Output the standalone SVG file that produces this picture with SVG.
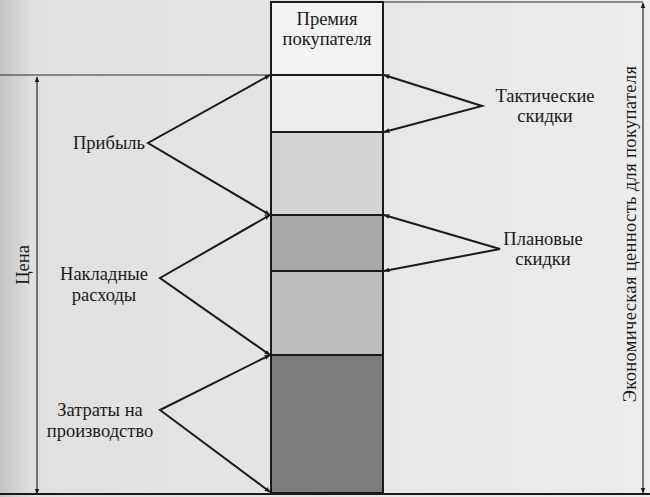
<svg xmlns="http://www.w3.org/2000/svg" width="650" height="497" viewBox="0 0 650 497">
<defs>
<style>
text{font-family:'Liberation Serif','DejaVu Serif',serif;font-size:18.5px;fill:#1a1a1a;}
.ln{stroke:#1a1a1a;stroke-width:2;fill:none;}
.thin{stroke:#2a2a2a;stroke-width:1.2;fill:none;}
.cell{stroke:#1a1a1a;stroke-width:2;}
</style>
<marker id="ah" viewBox="0 0 10 10" refX="9" refY="5" markerWidth="3" markerHeight="3" orient="auto-start-reverse">
<path d="M0,1 L10,5 L0,9 z" fill="#1a1a1a"/>
</marker>
<marker id="ah2" viewBox="0 0 10 10" refX="9" refY="5" markerWidth="5" markerHeight="5" orient="auto-start-reverse">
<path d="M0,1 L10,5 L0,9 z" fill="#1a1a1a"/>
</marker>
<linearGradient id="bg" x1="0" y1="0" x2="1" y2="0">
<stop offset="0" stop-color="#c4c4c4"/>
<stop offset="0.05" stop-color="#e0e0e0"/>
<stop offset="1" stop-color="#ececec"/>
</linearGradient>
</defs>
<rect x="0" y="0" width="650" height="497" fill="url(#bg)"/>

<g id="column">
<rect id="premium" class="cell" x="271" y="2" width="112" height="73" fill="#f2f2f2"/>
<rect id="tactical" class="cell" x="271" y="75" width="112" height="57" fill="#eeeeee"/>
<rect id="profit2" class="cell" x="271" y="132" width="112" height="83" fill="#d4d4d4"/>
<rect id="planned" class="cell" x="271" y="215" width="112" height="56" fill="#a9a9a9"/>
<rect id="overhead2" class="cell" x="271" y="271" width="112" height="84" fill="#bdbdbd"/>
<rect id="cost" class="cell" x="271" y="355" width="112" height="138" fill="#7c7c7c"/>
</g>

<g id="connectors">
<line class="thin" x1="0" y1="75" x2="271" y2="75"/>
<line class="thin" x1="383" y1="2" x2="643" y2="2"/>
<line class="ln" x1="0" y1="494" x2="650" y2="494"/>
<line class="thin" x1="37" y1="494" x2="37" y2="77" marker-start="url(#ah2)" marker-end="url(#ah2)"/>
<line class="thin" x1="643" y1="493" x2="643" y2="3" marker-start="url(#ah2)" marker-end="url(#ah2)"/>
<polyline class="ln" points="270,75 148,143 270,215" marker-start="url(#ah)" marker-end="url(#ah)"/>
<polyline class="ln" points="270,215 160,278 270,355" marker-start="url(#ah)" marker-end="url(#ah)"/>
<polyline class="ln" points="270,355 160,410 270,492" marker-start="url(#ah)" marker-end="url(#ah)"/>
<polyline class="ln" points="384,75 482,106 384,132" marker-start="url(#ah)" marker-end="url(#ah)"/>
<polyline class="ln" points="384,215 500,249 384,271" marker-start="url(#ah)" marker-end="url(#ah)"/>
</g>

<g id="labels">
<text x="327" y="25" text-anchor="middle">Премия</text>
<text x="327" y="45" text-anchor="middle">покупателя</text>
<text x="145" y="149" text-anchor="end">Прибыль</text>
<text x="104" y="280" text-anchor="middle">Накладные</text>
<text x="104" y="301" text-anchor="middle">расходы</text>
<text x="100" y="416" text-anchor="middle">Затраты на</text>
<text x="100" y="437" text-anchor="middle">производство</text>
<text x="545" y="102" text-anchor="middle">Тактические</text>
<text x="545" y="122" text-anchor="middle">скидки</text>
<text x="543" y="245" text-anchor="middle">Плановые</text>
<text x="543" y="265" text-anchor="middle">скидки</text>
<text transform="translate(29,265) rotate(-90)" text-anchor="middle">Цена</text>
<text transform="translate(636,234) rotate(-90)" text-anchor="middle" letter-spacing="0.35">Экономическая ценность для покупателя</text>
</g>
</svg>
